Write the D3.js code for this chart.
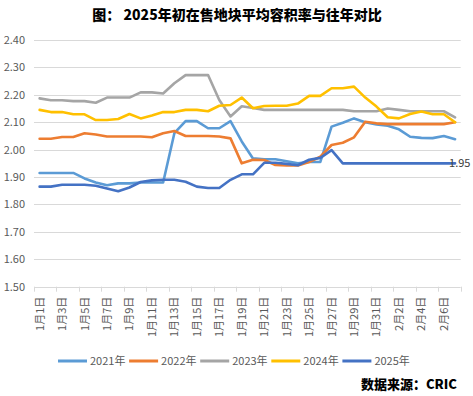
<!doctype html>
<html lang="zh">
<head>
  <meta charset="utf-8">
  <title>2025年初在售地块平均容积率</title>
  <script src="https://cdn.jsdelivr.net/npm/d3@7"></script>
  <style>
    body { margin: 0; background: #fff; }
    svg { display: block; font-family: "Noto Sans CJK SC", "Noto Sans", sans-serif; }
    .grid line { stroke: #d9d9d9; stroke-width: 1; }
    .ylab, .xlab, .leg { fill: #595959; font-size: 11px; }
    .series { fill: none; stroke-width: 2.6; stroke-linejoin: round; stroke-linecap: round; }
  </style>
</head>
<body>
<div id="chart"></div>
<script>
var days = ["1月1日","1月2日","1月3日","1月4日","1月5日","1月6日","1月7日","1月8日","1月9日","1月10日",
  "1月11日","1月12日","1月13日","1月14日","1月15日","1月16日","1月17日","1月18日","1月19日","1月20日",
  "1月21日","1月22日","1月23日","1月24日","1月25日","1月26日","1月27日","1月28日","1月29日","1月30日",
  "1月31日","2月1日","2月2日","2月3日","2月4日","2月5日","2月6日","2月7日"];

var yearNames = ["2021年", "2022年", "2023年", "2024年", "2025年"];
var yearColors = ["#5b9bd5", "#ed7d31", "#a5a5a5", "#ffc000", "#4472c4"];

var v2021 = [1.915,1.915,1.915,1.915,1.895,1.880,1.870,1.877,1.877,1.880,
  1.880,1.880,2.060,2.104,2.104,2.078,2.078,2.104,2.030,1.968,
  1.965,1.965,1.958,1.950,1.955,1.955,2.084,2.098,2.114,2.100,
  2.092,2.087,2.074,2.047,2.043,2.042,2.050,2.038];
var v2022 = [2.040,2.040,2.046,2.046,2.060,2.055,2.048,2.048,2.048,2.048,
  2.045,2.060,2.068,2.050,2.050,2.050,2.048,2.041,1.950,1.963,
  1.962,1.944,1.942,1.942,1.955,1.974,2.017,2.025,2.045,2.102,
  2.096,2.093,2.093,2.093,2.093,2.093,2.093,2.100];
var v2023 = [2.187,2.180,2.180,2.177,2.177,2.171,2.190,2.190,2.190,2.209,
  2.209,2.205,2.242,2.272,2.272,2.272,2.181,2.121,2.158,2.152,
  2.145,2.145,2.145,2.145,2.145,2.145,2.145,2.145,2.140,2.140,
  2.140,2.150,2.145,2.140,2.140,2.140,2.140,2.118];
var v2024 = [2.145,2.137,2.137,2.129,2.129,2.108,2.108,2.112,2.130,2.114,
  2.125,2.137,2.137,2.145,2.145,2.140,2.160,2.163,2.190,2.151,
  2.159,2.160,2.160,2.168,2.196,2.196,2.224,2.224,2.230,2.190,
  2.157,2.118,2.114,2.130,2.139,2.129,2.129,2.100];
var v2025 = [1.865,1.865,1.872,1.872,1.872,1.868,1.858,1.848,1.862,1.882,
  1.888,1.890,1.890,1.883,1.865,1.860,1.860,1.890,1.910,1.910,
  1.952,1.952,1.948,1.943,1.963,1.970,1.998,1.950,1.950,1.950,
  1.950,1.950,1.950,1.950,1.950,1.950,1.950,1.950];

var yTicks = [1.50,1.60,1.70,1.80,1.90,2.00,2.10,2.20,2.30,2.40];

(function() {
  var width = 473, height = 396;
  var plotLeft = 34, plotRight = 460.7, plotTop = 40, plotBottom = 286.7;

  var svg = d3.select("#chart").append("svg")
    .attr("width", width).attr("height", height);

  var x = d3.scaleBand().domain(days).range([plotLeft, plotRight]).padding(0);
  var y = d3.scaleLinear().domain([1.5, 2.4]).range([plotBottom, plotTop]);
  var cx = function(d) { return x(d) + x.bandwidth() / 2; };

  // title
  svg.append("text")
    .attr("x", 237).attr("y", 20)
    .attr("text-anchor", "middle")
    .style("font-size", "14px").style("font-weight", "900").style("fill", "#000")
    .text("图：  2025年初在售地块平均容积率与往年对比");

  // grid + y labels
  svg.append("g").attr("class", "grid")
    .selectAll("line").data(yTicks).enter().append("line")
    .attr("x1", plotLeft).attr("x2", plotRight)
    .attr("y1", function(d) { return Math.round(y(d)) + 0.5; })
    .attr("y2", function(d) { return Math.round(y(d)) + 0.5; });

  svg.selectAll(".ylab").data(yTicks).enter().append("text")
    .attr("class", "ylab")
    .attr("x", 25).attr("y", function(d) { return y(d) + 4; })
    .attr("text-anchor", "end")
    .text(d3.format(".2f"));

  // x ticks every 2 categories
  var tickDays = days.filter(function(d, i) { return i % 2 === 0; });
  var tickPos = tickDays.map(function(d) { return x(d); }).concat([plotRight]);
  svg.append("g").attr("class", "grid")
    .selectAll("line").data(tickPos).enter().append("line")
    .attr("x1", function(d) { return Math.round(d) + 0.5; })
    .attr("x2", function(d) { return Math.round(d) + 0.5; })
    .attr("y1", plotBottom).attr("y2", plotBottom + 5);

  svg.selectAll(".xlab").data(tickDays).enter().append("text")
    .attr("class", "xlab")
    .attr("text-anchor", "end")
    .attr("transform", function(d) { return "translate(" + (cx(d) + 4) + "," + (plotBottom + 10) + ") rotate(-90)"; })
    .text(function(d) { return d; });

  // lines, 2025 drawn last
  var series = [v2021, v2022, v2023, v2024, v2025];
  var line = d3.line()
    .x(function(d, i) { return cx(days[i]); })
    .y(function(d) { return y(d); });

  svg.selectAll(".series").data(series).enter().append("path")
    .attr("class", "series")
    .attr("stroke", function(d, i) { return yearColors[i]; })
    .attr("d", line);

  // last value label of 2025
  var last = v2025[v2025.length - 1];
  svg.append("text")
    .attr("x", cx(days[days.length - 1]) - 6)
    .attr("y", y(last) + 4)
    .style("font-size", "11px").style("fill", "#404040")
    .text(d3.format(".2f")(last));

  // legend
  var leg = svg.selectAll(".legItem").data(yearNames).enter().append("g")
    .attr("transform", function(d, i) { return "translate(" + (58 + i * 71.1) + ",361)"; });
  leg.append("line")
    .attr("x1", 0).attr("x2", 29).attr("y1", 0).attr("y2", 0)
    .attr("stroke-width", 3)
    .attr("stroke", function(d, i) { return yearColors[i]; });
  leg.append("text")
    .attr("class", "leg")
    .attr("x", 32).attr("y", 4)
    .text(function(d) { return d; });

  // source
  svg.append("text")
    .attr("x", 457).attr("y", 389)
    .attr("text-anchor", "end")
    .style("font-size", "13px").style("font-weight", "900").style("fill", "#000")
    .text("数据来源：CRIC");
})();
</script>
</body>
</html>
